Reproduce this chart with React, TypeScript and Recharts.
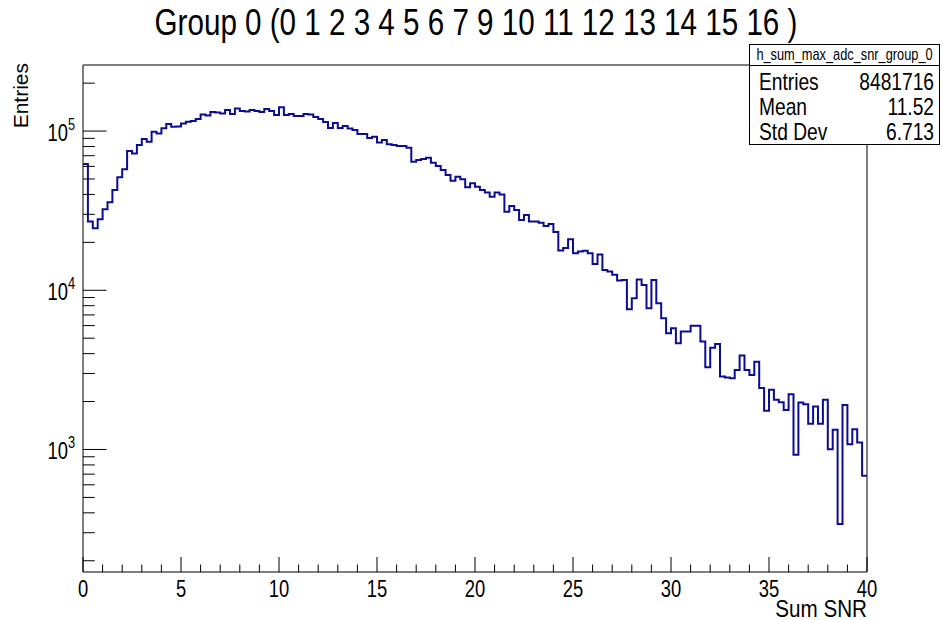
import React from "react";
import { LineChart, Line, XAxis, YAxis, ReferenceArea } from "recharts";

const W = 942;
const H = 620;
const frame = { left: 83, right: 867, top: 65, bottom: 572 };
const SQ = 0.8; // the picture is squeezed sideways, so is its text

const title = "Group 0 (0 1 2 3 4 5 6 7 9 10 11 12 13 14 15 16 )";
const xTitle = "Sum SNR";
const yTitle = "Entries";

const binWidth = 0.25;
const xRange = [0, 40];
// entries per 0.25-wide bin of Sum SNR
const counts = [
  62000, 27000, 24500, 27900, 32250, 35700, 42600, 51200, 57500, 74900,
  72400, 81700, 89100, 85600, 99000, 96700, 104000, 110600, 106400, 106700,
  111400, 114400, 115500, 118900, 126900, 125100, 131600, 130600, 128800, 135400,
  127800, 138400, 133500, 132500, 135400, 133500, 131600, 137400, 133500, 126000,
  141000, 126000, 127800, 124200, 124200, 127800, 126900, 122400, 118900, 113900,
  104400, 112200, 104400, 107500, 103700, 101500, 95800, 95800, 90400, 92100,
  84900, 87800, 82500, 81700, 80500, 80500, 78500, 64200, 65800, 66700,
  68000, 63200, 60300, 56900, 52900, 48800, 51600, 49800, 44300, 47000,
  44700, 42600, 41200, 38700, 41200, 40000, 31100, 33800, 31900, 27600,
  29700, 27000, 27000, 26600, 25300, 26100, 23200, 17800, 18400, 20900,
  17100, 17500, 17700, 17100, 14600, 16800, 13400, 13100, 12500, 11500,
  11600, 7600, 8900, 11700, 10800, 7700, 11600, 8300, 6670, 5370,
  5770, 4650, 5500, 5500, 5990, 5990, 4760, 3290, 4360, 4600,
  2870, 2830, 2800, 3160, 3890, 3160, 2940, 3560, 2430, 1750,
  2370, 2050, 1980, 1770, 2220, 925, 1970, 1925, 1450, 1860,
  1450, 2050, 1004, 1330, 340, 1905, 1080, 1340, 1105, 683,
];

const xMajorTicks = [0, 5, 10, 15, 20, 25, 30, 35, 40];
const xMinorTicks = [
  1, 2, 3, 4, 6, 7, 8, 9, 11, 12, 13, 14, 16, 17, 18, 19, 21, 22, 23, 24,
  26, 27, 28, 29, 31, 32, 33, 34, 36, 37, 38, 39,
];
const yMajorTicks = [1000, 10000, 100000];
const yMinorTicks = [
  200, 300, 400, 500, 600, 700, 800, 900,
  2000, 3000, 4000, 5000, 6000, 7000, 8000, 9000,
  20000, 30000, 40000, 50000, 60000, 70000, 80000, 90000,
  200000,
];
const yDomain = [170, 260000];

const statsName = "h_sum_max_adc_snr_group_0";
const statsLabels = ["Entries", "Mean", "Std Dev"];
const statsValues = ["8481716", "11.52", "6.713"];

const data = counts.map((c, i) => ({ x: xRange[0] + i * binWidth, y: c }));
data.push({ x: xRange[1], y: counts[counts.length - 1] });

const font = "'Liberation Sans', Arial, Helvetica, sans-serif";
const lineColor = "#0c0c92";

function XTick(props: any) {
  const { x, payload } = props;
  const major = xMajorTicks.includes(payload.value);
  const y0 = frame.bottom;
  return (
    <g>
      <line x1={x} x2={x} y1={y0} y2={y0 - (major ? 15 : 7.5)} stroke="#000" strokeWidth={1} />
      {major && (
        <text transform={`translate(${x},${y0 + 25}) scale(${SQ},1)`} textAnchor="middle" fontSize={23} fontFamily={font} fill="#000">
          {payload.value}
        </text>
      )}
    </g>
  );
}

function YTick(props: any) {
  const { y, payload } = props;
  const major = yMajorTicks.includes(payload.value);
  const x0 = frame.left;
  const exp = Math.round(Math.log10(payload.value));
  return (
    <g>
      <line x1={x0} x2={x0 + (major ? 23.5 : 11.8)} y1={y} y2={y} stroke="#000" strokeWidth={1} />
      {major && (
        <text transform={`translate(${x0 - 8},${y + 10}) scale(${SQ},1)`} textAnchor="end" fontSize={23} fontFamily={font} fill="#000">
          10
          <tspan dy={-11} fontSize={16}>{exp}</tspan>
        </text>
      )}
    </g>
  );
}

export default function App() {
  const statsTop = 44;
  return (
    <div style={{ position: "absolute", left: 0, top: 0, width: W, height: H, background: "#fff", overflow: "hidden" }}>
      <LineChart
        width={W}
        height={H}
        data={data}
        margin={{ top: frame.top, right: W - frame.right, bottom: 0, left: 0 }}
      >
        <XAxis
          dataKey="x"
          type="number"
          domain={xRange}
          ticks={[...xMajorTicks, ...xMinorTicks]}
          height={H - frame.bottom}
          tickSize={0}
          tickMargin={0}
          axisLine={false}
          tickLine={false}
          tick={<XTick />}
          interval={0}
          allowDataOverflow
        />
        <YAxis
          type="number"
          scale="log"
          domain={yDomain}
          ticks={[...yMajorTicks, ...yMinorTicks]}
          width={frame.left}
          tickSize={0}
          tickMargin={0}
          axisLine={false}
          tickLine={false}
          tick={<YTick />}
          interval={0}
          allowDataOverflow
        />
        <ReferenceArea
          x1={xRange[0]}
          x2={xRange[1]}
          y1={yDomain[0]}
          y2={yDomain[1]}
          fill="none"
          fillOpacity={0}
          stroke="#000"
          strokeWidth={1}
          ifOverflow="visible"
        />
        <Line
          dataKey="y"
          type="stepAfter"
          stroke={lineColor}
          strokeWidth={2}
          dot={false}
          activeDot={false}
          isAnimationActive={false}
        />
      </LineChart>

      <svg width={W} height={H} style={{ position: "absolute", left: 0, top: 0, pointerEvents: "none" }}>
        <text
          transform={`translate(${W / 2 + 5},35) scale(${SQ},1)`}
          textAnchor="middle"
          fontSize={37}
          fontFamily={font}
          fill="#000"
        >
          {title}
        </text>
        <text transform="translate(28,63) rotate(-90)" textAnchor="end" fontSize={21} fontFamily={font} fill="#000">
          {yTitle}
        </text>
        <text
          transform={`translate(${frame.right},617) scale(0.86,1)`}
          textAnchor="end"
          fontSize={24}
          fontFamily={font}
          fill="#000"
        >
          {xTitle}
        </text>

        {/* statistics box */}
        <rect x={749.5} y={statsTop + 0.5} width={190} height={100} fill="#fff" stroke="#000" strokeWidth={1} />
        <line x1={749.5} x2={939.5} y1={statsTop + 21.5} y2={statsTop + 21.5} stroke="#000" strokeWidth={1} />
        <text
          transform={`translate(844.5,${statsTop + 16}) scale(${SQ},1)`}
          textAnchor="middle"
          fontSize={16}
          fontFamily={font}
          fill="#000"
        >
          {statsName}
        </text>
        {statsLabels.map((label, i) => (
          <g key={label}>
            <text
              transform={`translate(759,${statsTop + 46 + i * 25}) scale(${SQ},1)`}
              fontSize={24}
              fontFamily={font}
              fill="#000"
            >
              {label}
            </text>
            <text
              transform={`translate(934,${statsTop + 46 + i * 25}) scale(${SQ},1)`}
              textAnchor="end"
              fontSize={24}
              fontFamily={font}
              fill="#000"
            >
              {statsValues[i]}
            </text>
          </g>
        ))}
      </svg>
    </div>
  );
}
